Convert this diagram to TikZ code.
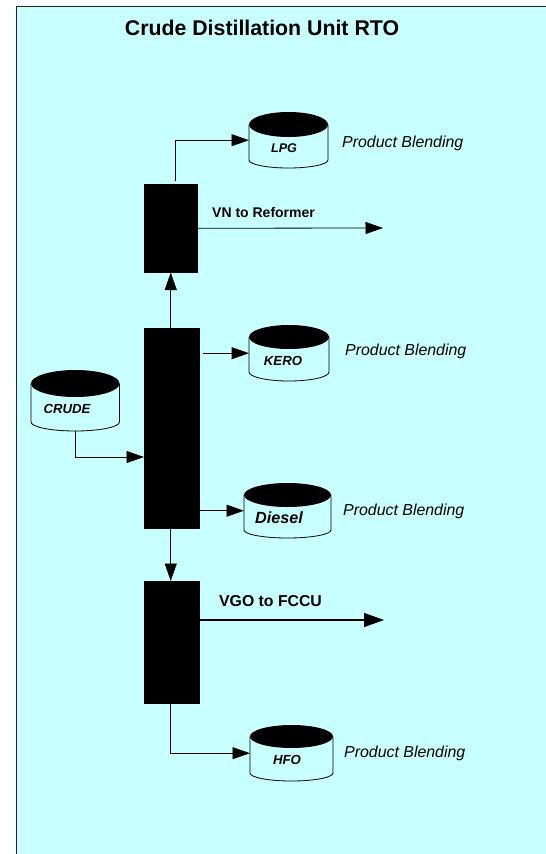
\documentclass[tikz,border=0pt]{standalone}
\usepackage{fontspec}
\setmainfont{Liberation Sans}
\usetikzlibrary{arrows.meta,positioning}
\definecolor{panel}{HTML}{C8FFFF}
\tikzset{
  column/.style={fill=black,draw=black,line width=.5pt,inner sep=0pt,anchor=north west},
  flow/.style={line width=.9pt,-{Triangle[length=17.5pt,width=12pt]}},
  heavyflow/.style={line width=1.4pt,-{Triangle[length=20pt,width=14pt]}},
  tankbox/.style={inner sep=0pt,anchor=north west},
  tanklabel/.style={font=\bfseries\itshape\fontsize{13.2}{15}\selectfont,inner sep=0pt},
  blend/.style={font=\itshape\fontsize{15.9}{18}\selectfont,inner sep=0pt,anchor=west},
  stream/.style={font=\bfseries\fontsize{14}{16}\selectfont,inner sep=0pt,anchor=west},
}
% name, x1, x2, top, ellipse bottom, side bottom, bottom
\newcommand{\tank}[7]{%
  \node[tankbox,minimum width=#3pt-#2pt,minimum height=#7pt-#4pt] (#1) at (#2,#4) {};
  \pgfmathsetmacro{\rxx}{(#3-#2)/2}
  \pgfmathsetmacro{\ryy}{(#5-#4)/2}
  \pgfmathsetmacro{\ryb}{#7-#6}
  \pgfmathsetmacro{\cxx}{(#3+#2)/2}
  \pgfmathsetmacro{\cyy}{(#5+#4)/2}
  \draw[line width=.8pt] (#2,\cyy) -- (#2,#6) arc[start angle=180,end angle=360,x radius=\rxx pt,y radius=\ryb pt] -- (#3,\cyy);
  \fill[black] (\cxx,\cyy) ellipse[x radius=\rxx pt,y radius=\ryy pt];
}
\begin{document}
\begin{tikzpicture}[x=1pt,y=-1pt]
\useasboundingbox (0,0) rectangle (546,854);
\fill[panel] (16,6) rectangle (546,854);
\draw[line width=1pt,draw=black!85] (16,854) -- (16,6) -- (546,6);

\node[inner sep=0pt,font=\bfseries\fontsize{21.3}{24}\selectfont] (title) at (262,28) {Crude Distillation Unit RTO};

\node[column,minimum width=53pt,minimum height=88pt] (top) at (144,184) {};
\node[column,minimum width=55pt,minimum height=200pt] (mid) at (144,328) {};
\node[column,minimum width=55pt,minimum height=122pt] (low) at (144,581) {};

\tank{lpg}{249}{328}{112}{137}{160}{168}
\tank{crude}{31}{119.5}{370}{397}{422}{431}
\tank{kero}{249}{329}{325}{349}{372}{381}
\tank{diesel}{244}{331}{483}{507}{530}{538}
\tank{hfo}{250}{333}{725}{748}{773}{781}

\node[tanklabel,font=\bfseries\itshape\fontsize{12.6}{15}\selectfont] (lpgt) at (284,148) {LPG};
\node[tanklabel] (crudet) at (67,409) {CRUDE};
\node[tanklabel] (kerot) at (283,361) {KERO};
\node[tanklabel,font=\bfseries\itshape\fontsize{16.2}{18}\selectfont] (dieselt) at (279,518) {Diesel};
\node[tanklabel] (hfot) at (287,760) {HFO};

\node[blend] (b1) at (342,143.5) {Product Blending};
\node[blend] (b2) at (345,351.5) {Product Blending};
\node[blend] (b3) at (343,511.5) {Product Blending};
\node[blend] (b4) at (344,753.5) {Product Blending};

\node[stream] (vn) at (212,212) {VN to Reformer};
\node[stream,font=\bfseries\fontsize{15.8}{18}\selectfont] (vgo) at (219,601) {VGO to FCCU};

\coordinate (vnend) at (383,228);
\coordinate (vgostart) at (200,620);
\coordinate (vgoend) at (384,620);
\coordinate (midin) at (144,457);
\coordinate (lpgstart) at (175.5,181);

\draw[flow] (lpgstart) |- (lpg.west);
\draw[flow,line width=.8pt] (top.east) -- (vnend);
\draw[flow] (top.south |- mid.north) -- (top.south);
\draw[flow] (crude.south) |- (midin);
\draw[flow,line width=1.2pt] ([xshift=3pt]mid.east |- kero.west) -- (kero.west);
\draw[flow] (mid.east |- diesel.west) -- (diesel.west);
\draw[flow] (top.south |- mid.south) -- (top.south |- low.north);
\draw[heavyflow] (vgostart) -- (vgoend);
\draw[flow] (top.south |- low.south) |- (hfo.west);
\end{tikzpicture}
\end{document}
